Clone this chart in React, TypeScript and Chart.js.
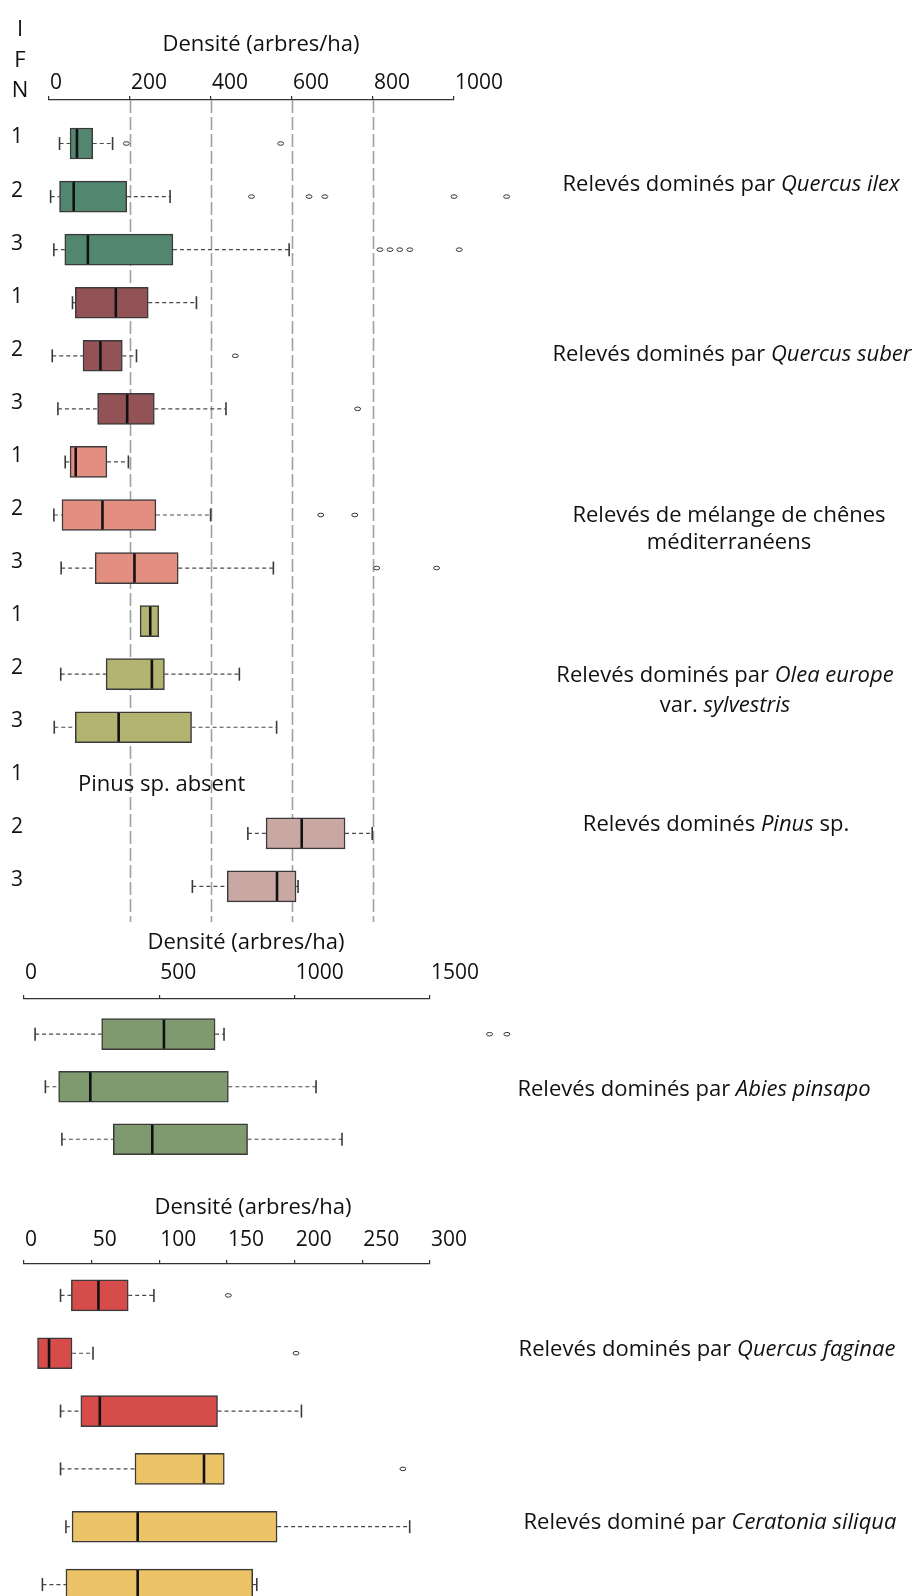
import React, { useEffect, useRef } from 'react';
import { Chart, registerables } from 'chart.js';

Chart.register(...registerables);

const FONT = '"Open Sans", "Noto Sans", sans-serif';
const AXIS_TITLE = 'Densité (arbres/ha)';

// ---------- Panel 1 : Quercus ilex, Q. suber, mélange, Olea, Pinus ----------
const panel1RowLabels = ['1', '2', '3', '1', '2', '3', '1', '2', '3', '1', '2', '3', '1', '2', '3'];
const panel1Low = [26, 4, 12, 58, 8, 22, 40, 12, 30, 225, 29, 13, null, 491, 354];
const panel1Q1 = [52, 26, 39, 65, 84, 120, 52, 32, 114, 225, 141, 65, null, 536, 440];
const panel1Median = [69, 61, 96, 165, 127, 193, 66, 132, 211, 250, 254, 172, null, 624, 563];
const panel1Q3 = [108, 192, 306, 245, 181, 260, 143, 264, 319, 271, 285, 352, null, 731, 610];
const panel1High = [157, 299, 593, 364, 216, 437, 196, 399, 554, 271, 470, 562, null, 798, 615];
const panel1Outliers = [
  [191, 572],
  [500, 642, 681, 1000, 1130],
  [817, 842, 866, 891, 1013],
  [],
  [460],
  [762],
  [],
  [671, 755],
  [809, 957],
  [],
  [],
  [],
  [],
  [],
  [],
];
const panel1RefLines = [200, 400, 600, 800];

// ---------- Panel 2 : Abies pinsapo ----------
const panel2RowLabels = ['', '', ''];
const panel2Low = [41, 79, 140];
const panel2Q1 = [287, 128, 330];
const panel2Median = [517, 245, 474];
const panel2Q3 = [706, 755, 826];
const panel2High = [739, 1079, 1175];
const panel2Outliers = [[1720, 1784], [], []];

// ---------- Panel 3 : Quercus faginae, Ceratonia siliqua ----------
const panel3RowLabels = ['', '', '', '', '', ''];
const panel3Low = [27, 10, 27, 27, 31, 13.6];
const panel3Q1 = [35, 10, 42, 82, 35.5, 31];
const panel3Median = [55, 18.5, 56, 133, 84, 84];
const panel3Q3 = [77, 35.5, 143, 148, 187, 169];
const panel3High = [96, 51, 205, 148, 285, 172];
const panel3Outliers = [[151], [201], [], [280], [], []];

// ---------- colours (style) ----------
const C_ILEX = '#52866e';
const C_SUBER = '#935356';
const C_MIX = '#e28e80';
const C_OLEA = '#b3b46f';
const C_PINUS = '#c9a7a3';
const C_ABIES = '#7f9a6f';
const C_FAG = '#d54c4b';
const C_CERA = '#ecc366';
const panel1Colors = [C_ILEX, C_ILEX, C_ILEX, C_SUBER, C_SUBER, C_SUBER, C_MIX, C_MIX, C_MIX, C_OLEA, C_OLEA, C_OLEA, C_PINUS, C_PINUS, C_PINUS];
const panel2Colors = [C_ABIES, C_ABIES, C_ABIES];
const panel3Colors = [C_FAG, C_FAG, C_FAG, C_CERA, C_CERA, C_CERA];

type PanelProps = {
  top: number;
  height: number;
  labels: string[];
  low: (number | null)[];
  q1: (number | null)[];
  med: (number | null)[];
  q3: (number | null)[];
  high: (number | null)[];
  outliers: number[][];
  colors: string[];
  xMax: number;
  xStep: number;
  yMin: number;
  yMax: number;
  axisLeft: number;
  padRight: number;
  padBottom: number;
  axisHeight: number;
  tickPad: number;
  refLines: number[];
  barThickness: number;
};

function BoxPanel(p: PanelProps) {
  const ref = useRef<HTMLCanvasElement>(null);
  useEffect(() => {
    const canvas = ref.current;
    if (!canvas) return;
    const rows = p.q1.map((v, i) => (v == null ? -1 : i)).filter((i) => i >= 0);
    const half = p.barThickness / 2;

    const extras = {
      id: 'boxExtras',
      beforeDatasetsDraw(chart: any) {
        const { ctx, chartArea } = chart;
        const xs = chart.scales.x;
        ctx.save();
        ctx.strokeStyle = '#a0a0a0';
        ctx.lineWidth = 1.6;
        ctx.setLineDash([13, 4]);
        p.refLines.forEach((v) => {
          const px = Math.round(xs.getPixelForValue(v)) + 0.5;
          ctx.beginPath();
          ctx.moveTo(px, chartArea.top);
          ctx.lineTo(px, chartArea.bottom);
          ctx.stroke();
        });
        ctx.restore();
      },
      afterDatasetsDraw(chart: any) {
        const { ctx } = chart;
        const xs = chart.scales.x;
        const ys = chart.scales.y;
        const line = (x1: number, y1: number, x2: number, y2: number) => {
          ctx.beginPath();
          ctx.moveTo(x1, y1);
          ctx.lineTo(x2, y2);
          ctx.stroke();
        };
        ctx.save();
        rows.forEach((i) => {
          const y = ys.getPixelForValue(i);
          const lo = p.low[i] as number;
          const a = p.q1[i] as number;
          const m = p.med[i] as number;
          const b = p.q3[i] as number;
          const hi = p.high[i] as number;
          // whiskers
          ctx.strokeStyle = '#4a4a4a';
          ctx.lineWidth = 1.2;
          ctx.setLineDash([4, 3]);
          if (lo < a) line(xs.getPixelForValue(lo), y, xs.getPixelForValue(a), y);
          if (hi > b) line(xs.getPixelForValue(b), y, xs.getPixelForValue(hi), y);
          ctx.setLineDash([]);
          ctx.lineWidth = 1.6;
          ctx.strokeStyle = '#3a3a3a';
          if (lo < a) line(xs.getPixelForValue(lo), y - 6.5, xs.getPixelForValue(lo), y + 6.5);
          if (hi > b) line(xs.getPixelForValue(hi), y - 6.5, xs.getPixelForValue(hi), y + 6.5);
          // median
          ctx.strokeStyle = '#111';
          ctx.lineWidth = 2.6;
          line(xs.getPixelForValue(m), y - half + 1, xs.getPixelForValue(m), y + half - 1);
          // outliers
          ctx.lineWidth = 1;
          ctx.strokeStyle = '#333';
          ctx.fillStyle = '#fff';
          (p.outliers[i] || []).forEach((v) => {
            ctx.beginPath();
            ctx.ellipse(xs.getPixelForValue(v), y, 3, 1.8, 0, 0, Math.PI * 2);
            ctx.fill();
            ctx.stroke();
          });
        });
        ctx.restore();
      },
    };

    const chart = new Chart(canvas, {
      type: 'bar',
      data: {
        datasets: [
          {
            data: rows.map((i) => ({ x: [p.q1[i], p.q3[i]], y: i })) as any,
            backgroundColor: rows.map((i) => p.colors[i]),
            borderColor: '#3a3a3a',
            borderWidth: 1.5,
            borderSkipped: false,
            barThickness: p.barThickness,
          },
        ],
      },
      options: {
        indexAxis: 'y',
        responsive: false,
        animation: false,
        events: [],
        layout: { padding: { left: 0, top: 0, right: p.padRight, bottom: p.padBottom } },
        plugins: { legend: { display: false }, tooltip: { enabled: false }, title: { display: false } },
        scales: {
          x: {
            type: 'linear',
            position: 'top',
            min: 0,
            max: p.xMax,
            offset: false,
            ticks: {
              stepSize: p.xStep,
              font: { family: FONT, size: 21 },
              color: '#111',
              padding: p.tickPad,
              align: 'start',
              labelOffset: 1,
              autoSkip: false,
              maxRotation: 0,
              callback: (v: any) => String(v),
            },
            grid: { display: true, drawOnChartArea: false, drawTicks: true, tickLength: 4, color: '#333', lineWidth: 1.2, offset: false },
            border: { display: true, color: '#333', width: 1.3 },
            afterFit: (s: any) => {
              s.height = p.axisHeight;
              s.paddingLeft = 0;
              s.paddingRight = 0;
            },
          },
          y: {
            type: 'linear',
            reverse: true,
            offset: false,
            min: p.yMin,
            max: p.yMax,
            afterBuildTicks: (s: any) => {
              s.ticks = p.labels.map((_, i) => ({ value: i }));
            },
            ticks: {
              callback: (v: any) => p.labels[v] ?? '',
              font: { family: FONT, size: 21 },
              color: '#111',
              padding: 26,
              labelOffset: -6,
              autoSkip: false,
            },
            grid: { display: false, drawTicks: false, offset: false },
            border: { display: false },
            afterFit: (s: any) => {
              s.width = p.axisLeft;
              s.paddingTop = 0;
              s.paddingBottom = 0;
            },
          },
        },
      } as any,
      plugins: [extras],
    });
    return () => chart.destroy();
  }, []);
  return (
    <canvas
      ref={ref}
      width={920}
      height={p.height}
      style={{ position: 'absolute', left: 0, top: p.top, width: 920, height: p.height, display: 'block' }}
    />
  );
}

const txt = (x: number, y: number, content: React.ReactNode, lh = 28) => (
  <div
    style={{
      position: 'absolute',
      left: x,
      top: y,
      transform: 'translate(-50%, -50%)',
      whiteSpace: 'nowrap',
      textAlign: 'center',
      lineHeight: `${lh}px`,
      fontSize: 22,
      color: '#111',
    }}
  >
    {content}
  </div>
);

export default function App() {
  return (
    <div
      style={{
        position: 'absolute',
        left: 0,
        top: 0,
        width: 920,
        height: 1596,
        overflow: 'hidden',
        background: '#fff',
        fontFamily: FONT,
      }}
    >
      <BoxPanel
        top={0}
        height={930}
        labels={panel1RowLabels}
        low={panel1Low}
        q1={panel1Q1}
        med={panel1Median}
        q3={panel1Q3}
        high={panel1High}
        outliers={panel1Outliers}
        colors={panel1Colors}
        xMax={1000}
        xStep={200}
        yMin={-0.82}
        yMax={14.67}
        axisLeft={49}
        padRight={466}
        padBottom={8}
        axisHeight={100}
        tickPad={0}
        refLines={panel1RefLines}
        barThickness={31}
      />
      <BoxPanel
        top={915}
        height={250}
        labels={panel2RowLabels}
        low={panel2Low}
        q1={panel2Q1}
        med={panel2Median}
        q3={panel2Q3}
        high={panel2High}
        outliers={panel2Outliers}
        colors={panel2Colors}
        xMax={1500}
        xStep={500}
        yMin={-0.67}
        yMax={2.49}
        axisLeft={24}
        padRight={490}
        padBottom={0}
        axisHeight={84}
        tickPad={9}
        refLines={[]}
        barThickness={31}
      />
      <BoxPanel
        top={1165}
        height={431}
        labels={panel3RowLabels}
        low={panel3Low}
        q1={panel3Q1}
        med={panel3Median}
        q3={panel3Q3}
        high={panel3High}
        outliers={panel3Outliers}
        colors={panel3Colors}
        xMax={300}
        xStep={50}
        yMin={-0.543}
        yMax={5.198}
        axisLeft={24}
        padRight={490}
        padBottom={0}
        axisHeight={99}
        tickPad={7}
        refLines={[]}
        barThickness={31}
      />

      {txt(20, 27, 'I')}
      {txt(20, 58, 'F')}
      {txt(20, 88, 'N')}
      {txt(261, 42, AXIS_TITLE)}
      {txt(246, 940, AXIS_TITLE)}
      {txt(253, 1205, AXIS_TITLE)}
      <div style={{ position: 'absolute', left: 78, top: 782, transform: 'translateY(-50%)', fontSize: 22, color: '#111', whiteSpace: 'nowrap' }}>
        Pinus sp. absent
      </div>

      {txt(731, 182, <span>Relevés dominés par <i>Quercus ilex</i></span>)}
      {txt(732, 352, <span>Relevés dominés par <i>Quercus suber</i></span>)}
      {txt(729, 527, <span>Relevés de mélange de chênes<br />méditerranéens</span>, 27)}
      {txt(725, 688, <span>Relevés dominés par <i>Olea europe</i><br />var. <i>sylvestris</i></span>, 30)}
      {txt(716, 822, <span>Relevés dominés <i>Pinus</i> sp.</span>)}
      {txt(694, 1087, <span>Relevés dominés par <i>Abies pinsapo</i></span>)}
      {txt(707, 1347, <span>Relevés dominés par <i>Quercus faginae</i></span>)}
      {txt(710, 1520, <span>Relevés dominé par <i>Ceratonia siliqua</i></span>)}
    </div>
  );
}
